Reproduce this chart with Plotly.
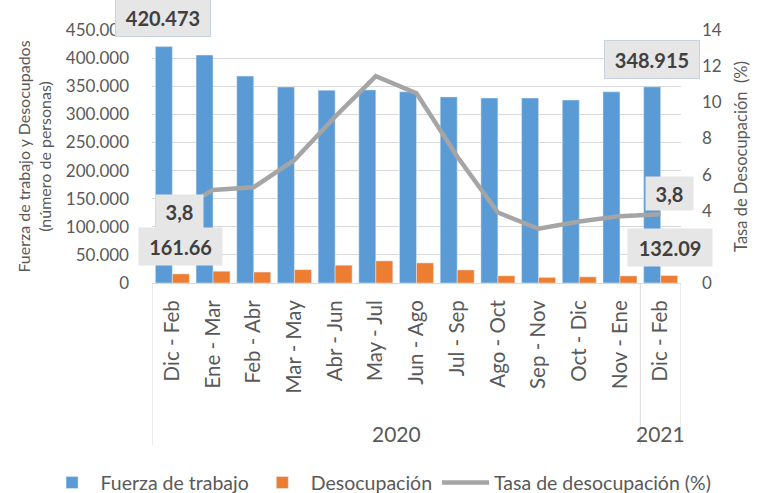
import plotly.graph_objects as go

years = ["2020"] * 12 + ["2021"]
periods = ["Dic - Feb", "Ene - Mar", "Feb - Abr", "Mar - May", "Abr - Jun", "May - Jul",
           "Jun - Ago", "Jul - Sep", "Ago - Oct", "Sep - Nov", "Oct - Dic", "Nov - Ene", "Dic - Feb"]
fuerza = [420473, 405500, 368000, 348600, 343000, 343500, 340000, 331000, 329000, 329000, 325500, 340000, 348915]
desocupacion = [16166, 20900, 19500, 23700, 31600, 39300, 35700, 23200, 12800, 9900, 11000, 12600, 13209]
tasa = [3.8, 5.15, 5.3, 6.8, 9.2, 11.45, 10.5, 7.0, 3.9, 3.0, 3.4, 3.7, 3.8]
year_labels = ["2020", "2021"]

font = "Lato"
grey = "#595959"
line_grey = "#d9d9d9"
idx = list(range(len(periods)))

fig = go.Figure()
fig.add_trace(go.Bar(x=idx, y=fuerza, name="Fuerza de trabajo", marker_color="#5b9bd5"))
fig.add_trace(go.Bar(x=idx, y=desocupacion, name="Desocupación", marker_color="#ed7d31"))
fig.add_trace(go.Scatter(x=idx, y=tasa, name="Tasa de desocupación (%)", yaxis="y2",
                         mode="lines", line=dict(color="#a5a5a5", width=4.5)))

box = dict(bgcolor="#e7e6e6", font=dict(family=font, size=20, color="#404040"), showarrow=False,
           borderpad=4)
fig.add_annotation(x=0, y=fuerza[0], text="<b>420.473</b>", xshift=-9, yshift=29, width=86, height=29,
                   bordercolor="#c9d3e0", borderwidth=1, **box)
fig.add_annotation(x=12, y=fuerza[12], text="<b>348.915</b>", xshift=-9, yshift=27, width=86, height=29,
                   bordercolor="#c9d3e0", borderwidth=1, **box)
fig.add_annotation(x=0, y=tasa[0], yref="y2", text="<b>3,8</b>", xshift=7, yshift=3, width=39,
                   height=25, **box)
fig.add_annotation(x=12, y=tasa[12], yref="y2", text="<b>3,8</b>", xshift=9, yshift=21, width=39,
                   height=25, **box)
fig.add_annotation(x=0, y=desocupacion[0], text="<b>161.66</b>", xshift=8, yshift=27, width=75,
                   height=29, **box)
fig.add_annotation(x=12, y=desocupacion[12], text="<b>132.09</b>", xshift=9, yshift=28, width=76,
                   height=29, **box)

# year group labels and dividers of the category axis
groups = {}
for i, yv in enumerate(years):
    groups.setdefault(yv, []).append(i)
for yv in year_labels:
    members = groups[yv]
    fig.add_annotation(x=sum(members) / len(members), y=-0.593, yref="paper", yanchor="middle",
                       text=yv, showarrow=False, font=dict(family=font, size=21, color=grey))
bounds = [-0.5] + [groups[yv][-1] + 0.5 for yv in year_labels]
for b in bounds:
    fig.add_shape(type="line", x0=b, x1=b, xref="x", y0=0, y1=-0.64, yref="paper",
                  line=dict(color=line_grey, width=1))

fig.update_layout(
    width=761, height=493,
    margin=dict(l=152, r=80, t=30, b=210, autoexpand=False),
    paper_bgcolor="white", plot_bgcolor="white",
    separators=",.",
    barmode="group", bargap=0.165, bargroupgap=0.0,
    font=dict(family=font, size=17, color=grey),
    showlegend=True,
    legend=dict(orientation="h", xref="paper", yref="paper", x=-0.205, xanchor="left",
                y=-0.79, yanchor="middle", itemwidth=47, font=dict(size=19.5, color=grey)),
    xaxis=dict(tickmode="array", tickvals=idx, ticktext=periods, tickangle=-90,
               range=[-0.5, len(periods) - 0.5], showline=True, linecolor=line_grey,
               showgrid=False, automargin=False, ticks="", ticklabelstandoff=8,
               tickfont=dict(size=20.5, color=grey)),
    yaxis=dict(range=[0, 450000], dtick=50000, tickformat=",.0f", gridcolor=line_grey,
               zeroline=False, ticklabelstandoff=22, automargin=False,
               title=dict(text="Fuerza de trabajo y Desocupados<br>(número de personas)",
                          font=dict(size=16, color=grey), standoff=10)),
    yaxis2=dict(range=[0, 14], dtick=2, overlaying="y", side="right", showgrid=False,
                zeroline=False, ticklabelstandoff=20, automargin=False,
                title=dict(text="Tasa de Desocupación  (%)", font=dict(size=16.5, color=grey), standoff=14)),
)

fig.write_html("out.html", post_script="document.body.style.margin='0px';",
               config={"displayModeBar": False})
